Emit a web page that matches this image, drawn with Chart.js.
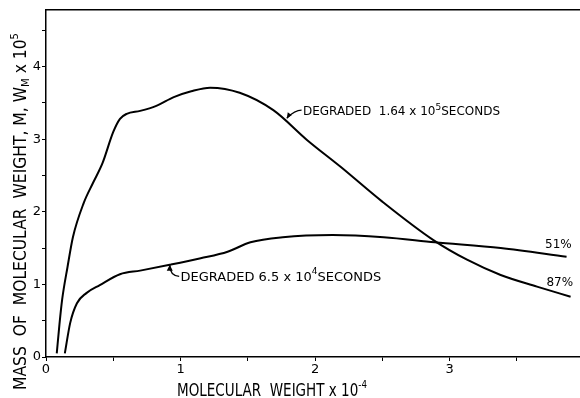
<!DOCTYPE html>
<html>
<head>
<meta charset="utf-8">
<script src="https://cdn.jsdelivr.net/npm/chart.js@4/dist/chart.umd.min.js"></script>
<style>
html,body{margin:0;padding:0;background:#fff;overflow:hidden}
#wrap{width:640px;height:398px}
</style>
</head>
<body>
<div id="wrap"><canvas id="grafica"></canvas></div>
<script>
// molecular weight x 10^-4 / mass x 10^5
const pesoX87 = [0.08,0.10,0.12,0.16,0.20,0.28,0.35,0.42,0.50,0.55,0.60,0.70,0.82,0.95,1.08,1.22,1.44,1.69,1.94,2.19,2.50,2.88,3.13,3.38,3.65,3.90]
const masa87  = [0.05,0.45,0.79,1.24,1.65,2.12,2.40,2.67,3.10,3.28,3.35,3.39,3.46,3.58,3.66,3.71,3.64,3.40,2.99,2.62,2.14,1.61,1.34,1.13,0.97,0.83]

const pesoX51 = [0.14,0.18,0.23,0.30,0.40,0.55,0.70,0.92,1.15,1.35,1.52,1.76,2.13,2.51,2.89,3.38,3.87]
const masa51  = [0.05,0.47,0.74,0.88,0.99,1.14,1.19,1.27,1.36,1.45,1.58,1.65,1.68,1.65,1.58,1.50,1.38]

const ticksX = [0,1,2,3]
const ticksY = [0,1,2,3,4]

const FUENTE = "'DejaVu Sans', sans-serif"

function puntos(xs, ys){
    return xs.map((x,i)=>({x:x, y:ys[i]}))
}

// draw a run of text pieces (normal + super/subscripts), squeezed to a width if given
function textoPartes(ctx, partes, x, y, ancho){
    let total = 0
    for(const p of partes){
        ctx.font = p.s + "px " + FUENTE
        total += ctx.measureText(p.t).width
    }
    let k = ancho ? ancho/total : 1
    ctx.save()
    ctx.translate(x, y)
    ctx.scale(k, 1)
    let cx = 0
    for(const p of partes){
        ctx.font = p.s + "px " + FUENTE
        ctx.fillText(p.t, cx, p.dy||0)
        cx += ctx.measureText(p.t).width
    }
    ctx.restore()
}

const anotaciones = {
    id:'anotaciones',
    afterDatasetsDraw(chart){
        const ctx = chart.ctx
        const sx = chart.scales.x, sy = chart.scales.y
        const px = v => sx.getPixelForValue(v)
        const py = v => sy.getPixelForValue(v)
        ctx.save()
        ctx.fillStyle = '#000'
        ctx.strokeStyle = '#000'
        ctx.lineWidth = 1.3
        ctx.textBaseline = 'middle'
        ctx.textAlign = 'left'

        // leader for the 1.64 x 10^5 curve
        ctx.beginPath()
        ctx.moveTo(px(1.79), py(3.29))
        ctx.quadraticCurveTo(px(1.85), py(3.40), px(1.90), py(3.40))
        ctx.stroke()
        ctx.beginPath()
        ctx.moveTo(px(1.79), py(3.29))
        ctx.lineTo(px(1.79)+1, py(3.29)-6)
        ctx.lineTo(px(1.79)+5, py(3.29)-3)
        ctx.closePath()
        ctx.fill()
        textoPartes(ctx, [
            {t:'DEGRADED  1.64 x 10', s:12},
            {t:'5', s:9, dy:-5},
            {t:'SECONDS', s:12}
        ], px(1.91), py(3.37))

        // leader for the 6.5 x 10^4 curve
        ctx.beginPath()
        ctx.moveTo(px(0.92), py(1.27))
        ctx.quadraticCurveTo(px(0.92), py(1.12), px(0.99), py(1.11))
        ctx.stroke()
        ctx.beginPath()
        ctx.moveTo(px(0.92), py(1.27))
        ctx.lineTo(px(0.92)-3, py(1.27)+6)
        ctx.lineTo(px(0.92)+3, py(1.27)+6)
        ctx.closePath()
        ctx.fill()
        textoPartes(ctx, [
            {t:'DEGRADED 6.5 x 10', s:13},
            {t:'4', s:9, dy:-5},
            {t:'SECONDS', s:13}
        ], px(1.00), py(1.10))

        ctx.font = "12px " + FUENTE
        ctx.fillText('51%', px(3.71), py(1.54))
        ctx.fillText('87%', px(3.72), py(1.02))

        // axis titles, hand lettered look: tall and narrow
        ctx.textBaseline = 'alphabetic'
        textoPartes(ctx, [
            {t:'MOLECULAR  WEIGHT x 10', s:17},
            {t:'-4', s:11, dy:-8}
        ], 177, 396, 190)

        ctx.save()
        ctx.translate(26, 390)
        ctx.rotate(-Math.PI/2)
        textoPartes(ctx, [
            {t:'MASS  OF  MOLECULAR  WEIGHT, M, W', s:17},
            {t:'M', s:11, dy:3},
            {t:' x 10', s:17},
            {t:'5', s:11, dy:-8}
        ], 0, 0, 357)
        ctx.restore()

        ctx.restore()
    }
}

const estiloLinea = {
    borderColor:'#000',
    borderWidth:2,
    pointRadius:0,
    fill:false,
    cubicInterpolationMode:'monotone'
}

new Chart(document.getElementById("grafica"),{
    type:'line',
    data:{
        datasets:[
            Object.assign({label:'Degraded 1.64 x 10^5 seconds (87%)', data:puntos(pesoX87, masa87)}, estiloLinea),
            Object.assign({label:'Degraded 6.5 x 10^4 seconds (51%)', data:puntos(pesoX51, masa51)}, estiloLinea)
        ]
    },
    options:{
        responsive:true,
        maintainAspectRatio:false,
        animation:false,
        layout:{padding:0},
        plugins:{
            legend:{display:false},
            tooltip:{enabled:false}
        },
        scales:{
            x:{
                type:'linear',
                position:'bottom',
                min:0,
                max:4.416,
                afterFit(s){ s.height = 41 },
                afterBuildTicks(s){ s.ticks = [0,0.5,1,1.5,2,2.5,3,3.5].map(v=>({value:v})) },
                ticks:{
                    color:'#000',
                    font:{family:FUENTE, size:13},
                    maxRotation:0,
                    autoSkip:false,
                    padding:1,
                    callback:v => ticksX.includes(v) ? String(v) : ''
                },
                grid:{drawOnChartArea:false, color:'#000', tickLength:4, lineWidth:1},
                border:{color:'#000', width:1.5},
                title:{display:false}
            },
            arriba:{
                type:'linear',
                position:'top',
                min:0,
                max:4.416,
                afterFit(s){ s.height = 10 },
                ticks:{display:false},
                grid:{display:false},
                border:{display:true, color:'#000', width:1.5}
            },
            y:{
                type:'linear',
                min:0,
                max:4.78,
                afterFit(s){ s.width = 46 },
                afterBuildTicks(s){ s.ticks = [0,0.5,1,1.5,2,2.5,3,3.5,4,4.5].map(v=>({value:v})) },
                ticks:{
                    color:'#000',
                    font:{family:FUENTE, size:13},
                    padding:1,
                    callback:v => ticksY.includes(v) ? String(v) : ''
                },
                grid:{drawOnChartArea:false, color:'#000', tickLength:4, lineWidth:1},
                border:{color:'#000', width:1.5},
                title:{display:false}
            }
        }
    },
    plugins:[anotaciones]
})
</script>
</body>
</html>
